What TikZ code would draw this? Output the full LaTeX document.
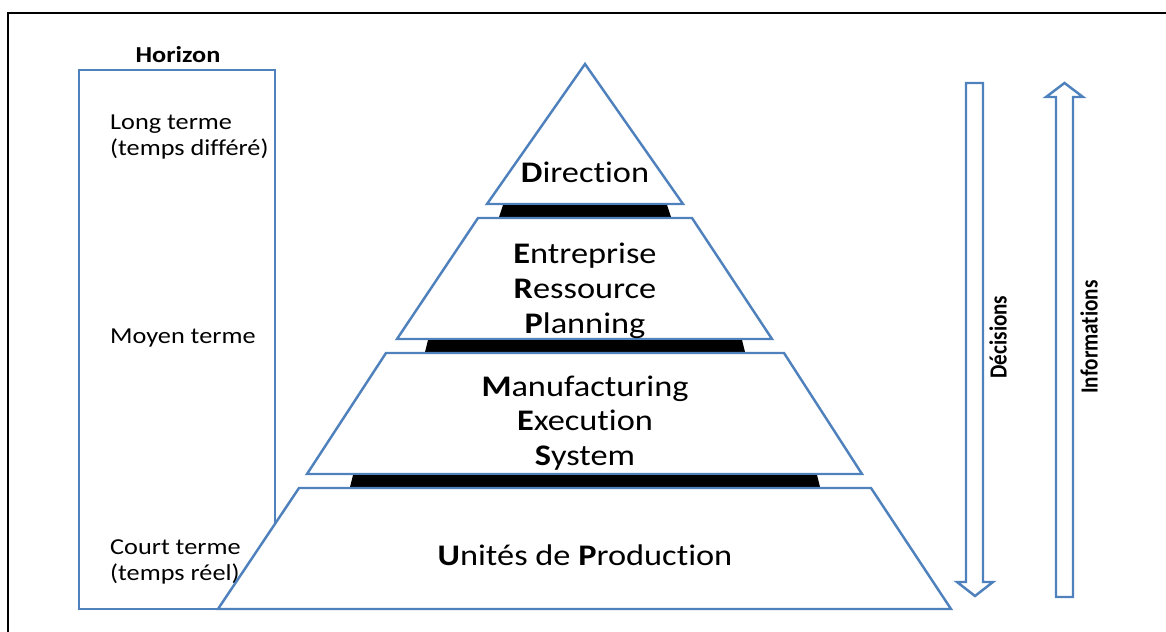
\documentclass[tikz,border=0pt]{standalone}
\usepackage{fontspec}
\setmainfont{Carlito}[FakeStretch=1.15,Ligatures=NoCommon]
\newfontfamily\condfont{Carlito}[FakeStretch=0.86,Ligatures=NoCommon]
\definecolor{bleu}{RGB}{79,129,189}
\begin{document}
\begin{tikzpicture}[x=0.02cm,y=-0.02cm,
  niveau/.style={draw=bleu,line width=1.4pt,fill=white},
  barre/.style={fill=black},
  fleche/.style={draw=bleu,line width=1.4pt,fill=white},
  grand/.style={font=\fontsize{17}{19.8}\selectfont,align=center},
  petit/.style={font=\fontsize{13}{14.8}\selectfont,align=left,anchor=west},
  vertical/.style={font=\condfont\bfseries\fontsize{14}{16}\selectfont,rotate=90}]
\useasboundingbox (0,0) rectangle (1166,632);
\draw[line width=1.7pt] (8,640)--(8,13)--(1170,13);

% colonne horizon
\draw[niveau] (79,70) rectangle (275,609);
\node (hor) at (178,55)[font=\fontsize{13}{15}\selectfont\bfseries]{Horizon};
\node (long) at (104,137)[petit]{Long terme\\(temps différé)};
\node (moyen) at (104,338)[petit]{Moyen terme};
\node (court) at (104,562)[petit]{Court terme\\(temps réel)};

% pyramide
\draw[niveau] (585,64)--(683,204)--(487,204)--cycle;
\fill[barre] (503,205)--(667,205)--(671,217)--(499,217)--cycle;
\draw[niveau] (478,218)--(692,218)--(772,339)--(397,339)--cycle;
\fill[barre] (428,340)--(742,340)--(745,352)--(425,352)--cycle;
\draw[niveau] (386,353)--(784,353)--(862,474)--(307,474)--cycle;
\fill[barre] (353,475)--(817,475)--(820,487)--(350,487)--cycle;
\draw[niveau] (299,488)--(871,488)--(951,609)--(218,609)--cycle;

\node (dir) at (585,172)[grand]{\textbf{D}irection};
\node (erp) at (585,291)[grand]{\textbf{E}ntreprise\\\textbf{R}essource\\\textbf{P}lanning};
\node (mes) at (585,423)[grand]{\textbf{M}anufacturing\\\textbf{E}xecution\\\textbf{S}ystem};
\node (up) at (585,555)[grand]{\textbf{U}nités de \textbf{P}roduction};

% fleches
\draw[fleche] (966,83)--(983,83)--(983,582)--(993,582)--(975,596)--(957,582)--(966,582)--cycle;
\draw[fleche] (1056,597)--(1073,597)--(1073,97)--(1083,97)--(1064.5,83)--(1046,97)--(1056,97)--cycle;
\node (dec) at (998,337)[vertical]{Décisions};
\node (info) at (1089,337)[vertical]{Informations};
\end{tikzpicture}
\end{document}
